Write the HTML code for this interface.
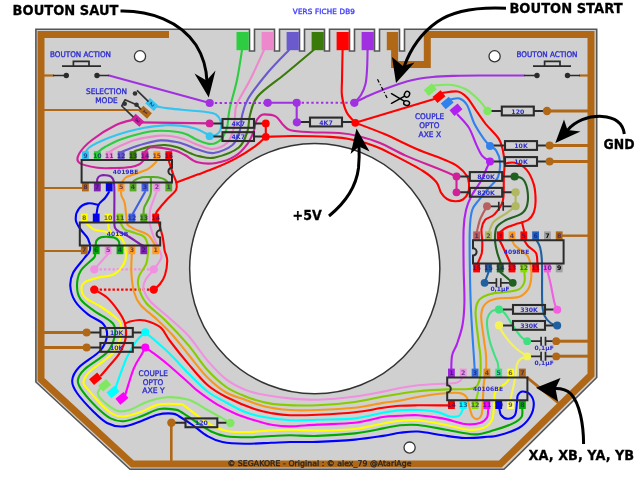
<!DOCTYPE html>
<html><head><meta charset="utf-8"><title>Trak-Ball wiring</title>
<style>html,body{margin:0;padding:0;background:#fff;overflow:hidden}svg{display:block}
text{font-family:"DejaVu Sans","Liberation Sans",sans-serif;filter:opacity(1)}</style></head>
<body><svg width="640" height="480" viewBox="0 0 640 480">
<rect width="640" height="480" fill="#fff"/>
<path d="M35.9,29.2 H249.5 V51 H254.5 V29.2 H274.5 V51 H279.5 V29.2 H299.5 V51 H304.5 V29.2 H324.5 V51 H329.5 V29.2 H349.5 V51 H354.5 V29.2 H374.5 V51 H379.5 V29.2 H399.5 V51 H404.5 V29.2 H596.7 V377.5 L504,469.3 H130 L35.9,382 Z" fill="#d0d0d0" stroke="#555" stroke-width="1.6" stroke-linejoin="miter"/>
<path d="M169,34.6 H41 V379.5 L132.5,464 H500.4 L591,375.1 V34.6 H427.3 V64.6 H394.6 V45" fill="none" stroke="#b06816" stroke-width="7" stroke-linejoin="miter"/>
<circle cx="314.75" cy="268.7" r="125.1" fill="#fff" stroke="#333" stroke-width="1.5"/>
<circle cx="140" cy="56.3" r="5.6" fill="#fff" stroke="#333" stroke-width="1.3"/>
<circle cx="494.6" cy="56.3" r="5.6" fill="#fff" stroke="#333" stroke-width="1.3"/>
<circle cx="409.6" cy="447.6" r="5.6" fill="#fff" stroke="#333" stroke-width="1.3"/>
<path d="M44,75.5 H54" fill="none" stroke="#b06816" stroke-width="2.2"/>
<path d="M44,110 H140" fill="none" stroke="#b06816" stroke-width="2.2"/>
<path d="M44,188 H83" fill="none" stroke="#b06816" stroke-width="2.2"/>
<path d="M44,251 H82" fill="none" stroke="#b06816" stroke-width="2.2"/>
<path d="M44,332.4 H86" fill="none" stroke="#b06816" stroke-width="3"/>
<path d="M44,347.4 H86" fill="none" stroke="#b06816" stroke-width="3"/>
<path d="M171.3,423 V461" fill="none" stroke="#b06816" stroke-width="2.6"/>
<path d="M547,111 H588" fill="none" stroke="#b06816" stroke-width="3"/>
<path d="M549.5,145.6 H588" fill="none" stroke="#b06816" stroke-width="3"/>
<path d="M549.5,161.5 H588" fill="none" stroke="#b06816" stroke-width="3"/>
<path d="M561,235.7 H588" fill="none" stroke="#b06816" stroke-width="2.4"/>
<path d="M556,341.2 H588" fill="none" stroke="#b06816" stroke-width="3"/>
<path d="M556,356.2 H588" fill="none" stroke="#b06816" stroke-width="3"/>
<path d="M579,75.5 H588" fill="none" stroke="#b06816" stroke-width="2.2"/>
<path d="M526.6,377.2 L558.5,403" fill="none" stroke="#b06816" stroke-width="2.8"/>
<path d="M242.0,50.0 C241.2,55.0 238.9,70.8 237.0,80.0 C235.1,89.2 231.9,99.0 230.5,105.0 C229.1,111.0 229.1,112.2 228.5,116.0 C227.9,119.8 228.2,123.6 227.0,127.5 C225.8,131.4 223.7,136.8 221.0,139.5 C218.3,142.2 214.9,143.9 211.0,144.0 C207.1,144.1 201.8,141.7 197.5,140.0 C193.2,138.3 189.8,135.2 185.0,133.8 C180.2,132.2 174.6,131.4 168.8,131.0 C162.9,130.6 157.8,130.2 150.0,131.5 C142.2,132.8 129.5,136.4 122.0,139.0 C114.5,141.6 109.0,144.8 105.0,147.0 C101.0,149.2 99.2,151.2 98.0,152.0" fill="none" stroke="#2ecc40" stroke-width="2.1" stroke-linecap="round" stroke-linejoin="round"/>
<path d="M264.0,50.0 C261.7,55.0 254.5,71.0 250.0,80.0 C245.5,89.0 239.5,98.0 237.0,104.0 C234.5,110.0 235.5,112.0 235.0,116.0 C234.5,120.0 235.0,123.6 233.8,128.0 C232.5,132.4 231.0,139.0 227.5,142.5 C224.0,146.0 217.4,148.6 212.5,149.0 C207.6,149.4 202.6,146.6 198.0,145.0 C193.4,143.4 189.7,140.9 185.0,139.4 C180.3,137.9 174.6,136.6 170.0,136.0 C165.4,135.4 163.3,135.2 157.5,135.9 C151.7,136.6 141.9,138.0 135.0,140.0 C128.1,142.0 120.2,146.0 116.0,148.0 C111.8,150.0 110.6,151.3 109.5,152.0" fill="none" stroke="#ee88cc" stroke-width="2.1" stroke-linecap="round" stroke-linejoin="round"/>
<path d="M289.0,50.0 C285.3,53.9 273.8,65.3 267.0,73.5 C260.2,81.7 252.2,91.9 248.0,99.0 C243.8,106.1 243.3,110.8 242.0,116.0 C240.7,121.2 241.6,125.2 240.0,130.0 C238.4,134.8 236.9,141.2 232.5,145.0 C228.1,148.8 219.5,152.2 213.8,153.0 C208.0,153.8 202.8,151.0 198.0,149.6 C193.2,148.2 188.8,145.7 185.0,144.4 C181.2,143.1 179.0,142.5 175.0,141.8 C171.0,141.1 166.1,140.1 161.0,140.4 C155.9,140.7 150.0,142.2 144.4,143.7 C138.8,145.2 131.3,148.0 127.5,149.4 C123.7,150.8 122.5,151.6 121.5,152.0" fill="none" stroke="#6a5acd" stroke-width="2.1" stroke-linecap="round" stroke-linejoin="round"/>
<path d="M313.6,50.0 C308.8,54.0 294.3,66.3 285.0,74.0 C275.7,81.7 263.8,89.2 258.0,96.0 C252.2,102.8 251.8,109.1 250.0,115.0 C248.2,120.9 249.4,125.8 247.5,131.2 C245.6,136.7 244.2,143.1 238.8,147.5 C233.3,151.9 221.5,156.0 215.0,157.5 C208.5,159.0 204.0,157.1 200.0,156.4 C196.0,155.7 194.7,155.0 191.0,153.5 C187.3,152.0 182.3,149.0 178.0,147.6 C173.7,146.2 169.7,145.2 165.0,145.0 C160.3,144.8 154.7,145.7 150.0,146.6 C145.3,147.5 139.8,149.4 137.0,150.3 C134.2,151.2 134.1,151.7 133.5,152.0" fill="none" stroke="#3a7a0a" stroke-width="2.1" stroke-linecap="round" stroke-linejoin="round"/>
<path d="M144.8,152.0 C145.7,151.3 147.5,148.3 150.0,147.6 C152.5,146.9 155.8,147.1 160.0,147.6 C164.2,148.1 170.8,149.4 175.0,150.6 C179.2,151.8 181.2,153.1 185.0,155.0 C188.8,156.9 192.3,161.0 197.5,162.3 C202.7,163.6 210.0,164.0 216.2,163.0 C222.5,162.0 229.8,159.5 235.0,156.2 C240.2,153.0 244.4,147.9 247.5,143.8 C250.6,139.6 252.4,134.8 253.8,131.2 C255.1,127.7 254.6,125.0 255.6,122.5 C256.6,120.0 258.1,117.8 259.6,116.4 C261.1,115.1 261.7,114.4 264.4,114.4 C267.1,114.4 272.5,114.6 275.6,116.3 C278.7,118.0 280.5,122.4 283.0,124.7 C285.5,127.0 285.9,129.1 290.6,130.3 C295.3,131.6 302.9,131.8 311.0,132.2 C319.1,132.6 331.6,132.4 339.4,133.0 C347.2,133.6 351.2,134.3 358.0,136.0 C364.8,137.7 372.1,139.7 380.0,143.0 C387.9,146.3 395.9,151.3 405.6,155.6 C415.3,159.9 429.9,165.3 438.4,168.8 C446.9,172.2 453.5,175.2 456.5,176.5" fill="none" stroke="#d0209a" stroke-width="2.1" stroke-linecap="round" stroke-linejoin="round"/>
<path d="M456.5,176.5 V192.3" fill="none" stroke="#d0209a" stroke-width="2.1" stroke-linecap="round" stroke-linejoin="round"/>
<path d="M140,122.4 L209.6,123.4" fill="none" stroke="#d0209a" stroke-width="2.1" stroke-linecap="round" stroke-linejoin="round"/>
<path d="M134.0,119.6 C131.0,120.5 123.0,121.6 116.0,125.0 C109.0,128.4 98.2,135.2 92.0,140.0 C85.8,144.8 81.1,150.2 79.0,154.0 C76.9,157.8 76.4,160.7 79.5,163.0 C82.6,165.3 91.6,166.9 97.5,167.8 C103.4,168.6 109.4,168.1 115.0,168.0 C120.6,167.9 127.0,167.6 131.0,167.0 C135.0,166.4 136.9,165.6 139.0,164.5 C141.1,163.4 142.8,161.2 143.5,160.5" fill="none" stroke="#d0209a" stroke-width="2.1" stroke-linecap="round" stroke-linejoin="round"/>
<path d="M154.0,106.0 C156.5,106.4 162.8,107.7 168.8,108.4 C174.8,109.2 183.8,109.9 190.0,110.5 C196.2,111.1 201.7,111.3 206.0,112.0 C210.3,112.7 213.6,113.0 216.0,114.5 C218.4,116.0 219.9,118.4 220.6,121.0 C221.3,123.6 221.2,127.7 220.4,130.0 C219.6,132.3 217.8,134.0 216.0,135.0 C214.2,136.0 210.7,136.0 209.6,136.2" fill="none" stroke="#33c4f0" stroke-width="2.1" stroke-linecap="round" stroke-linejoin="round"/>
<path d="M85.5,152.0 C86.6,150.9 86.9,148.4 92.0,145.6 C97.1,142.8 107.3,138.3 116.0,135.3 C124.7,132.3 136.2,129.5 144.4,127.8 C152.6,126.1 159.1,125.7 165.0,125.3 C170.9,124.9 175.0,125.1 180.0,125.6 C185.0,126.1 190.8,127.3 195.0,128.5 C199.2,129.7 202.6,131.7 205.0,133.0 C207.4,134.3 208.8,135.7 209.6,136.2" fill="none" stroke="#33c4f0" stroke-width="2.1" stroke-linecap="round" stroke-linejoin="round"/>
<path d="M109,75.5 L209.7,103" fill="none" stroke="#a030e0" stroke-width="2.1" stroke-linecap="round" stroke-linejoin="round"/>
<path d="M214.8,103 H264" fill="none" stroke="#a030e0" stroke-width="2.1" stroke-linecap="butt" stroke-linejoin="round" stroke-dasharray="2.4 2.45"/>
<path d="M267.7,102.8 H296.7 V122.3" fill="none" stroke="#a030e0" stroke-width="2.1" stroke-linecap="round" stroke-linejoin="round"/>
<path d="M301.6,102.8 H351" fill="none" stroke="#a030e0" stroke-width="2.1" stroke-linecap="butt" stroke-linejoin="round" stroke-dasharray="2.4 2.45"/>
<path d="M367.6,50.0 C367.5,53.3 367.4,64.3 367.0,70.0 C366.6,75.7 366.5,79.8 365.5,84.0 C364.5,88.2 362.9,91.9 361.0,95.0 C359.1,98.1 355.5,101.5 354.4,102.8" fill="none" stroke="#a030e0" stroke-width="2.1" stroke-linecap="round" stroke-linejoin="round"/>
<path d="M354.4,102.8 C356.7,101.7 363.3,98.1 368.0,96.0 C372.7,93.9 375.9,92.5 382.5,90.0 C389.1,87.5 399.2,83.4 407.5,81.2 C415.8,79.0 423.8,77.9 432.5,77.0 C441.2,76.1 452.1,76.0 460.0,75.7 C467.9,75.5 469.3,75.5 480.0,75.5 C490.7,75.5 516.7,75.5 524.0,75.5" fill="none" stroke="#a030e0" stroke-width="2.1" stroke-linecap="round" stroke-linejoin="round"/>
<path d="M342.6,50.0 C342.5,55.0 342.1,72.3 342.0,80.0 C341.9,87.7 341.2,90.7 342.0,96.0 C342.8,101.3 344.3,107.5 346.5,112.0 C348.7,116.5 353.8,121.0 355.3,122.8" fill="none" stroke="#ff0000" stroke-width="2.1" stroke-linecap="round" stroke-linejoin="round"/>
<path d="M355.3,122.8 L436,98.5" fill="none" stroke="#ff0000" stroke-width="2.1" stroke-linecap="round" stroke-linejoin="round"/>
<path d="M265.8,123.4 V136.8" fill="none" stroke="#ff0000" stroke-width="2.1" stroke-linecap="round" stroke-linejoin="round"/>
<path d="M265.8,136.8 C270.2,136.7 281.8,136.0 292.5,136.0 C303.2,136.0 320.0,136.3 330.0,136.9 C340.0,137.5 345.0,138.1 352.5,139.7 C360.0,141.2 368.0,143.5 375.0,146.2 C382.0,148.8 386.7,151.5 394.7,155.6 C402.7,159.7 416.1,166.6 423.0,171.0 C429.9,175.4 433.3,178.4 436.3,182.0 C439.3,185.6 439.2,189.8 441.0,192.6 C442.8,195.4 444.7,197.6 447.0,199.0 C449.3,200.4 452.3,201.1 455.0,201.2 C457.7,201.3 460.8,200.9 463.0,199.5 C465.2,198.1 467.2,195.1 468.2,192.5 C469.2,189.9 469.2,186.8 469.0,184.0 C468.8,181.2 468.8,178.9 467.0,176.0 C465.2,173.1 461.7,169.3 458.0,166.6 C454.3,163.9 451.9,162.9 445.0,160.0 C438.1,157.1 426.8,153.4 416.6,149.0 C406.4,144.6 394.0,138.1 383.8,133.8 C373.5,129.4 360.0,124.6 355.3,122.8" fill="none" stroke="#ff0000" stroke-width="2.1" stroke-linecap="round" stroke-linejoin="round"/>
<path d="M265.8,136.8 C264.0,138.4 260.1,142.6 255.0,146.3 C249.9,150.0 241.5,155.3 235.0,158.8 C228.5,162.3 222.5,164.9 216.2,167.5 C210.0,170.1 204.2,172.1 197.5,174.6 C190.8,177.1 179.8,181.2 176.3,182.5" fill="none" stroke="#ff0000" stroke-width="2.1" stroke-linecap="round" stroke-linejoin="round"/>
<path d="M168.6,160.0 C168.8,160.7 169.0,161.5 169.8,164.0 C170.6,166.5 172.3,171.9 173.4,175.0 C174.5,178.1 175.9,180.0 176.3,182.5 C176.7,185.0 177.6,187.2 176.0,190.0 C174.4,192.8 170.0,196.2 167.0,199.5 C164.0,202.8 159.9,207.6 158.0,210.0 C156.1,212.4 156.2,213.3 155.8,214.0" fill="none" stroke="#ff0000" stroke-width="2.1" stroke-linecap="round" stroke-linejoin="round"/>
<path d="M158.5,222.0 C159.2,224.5 161.7,232.3 162.7,237.0 C163.7,241.7 163.8,246.2 164.5,250.0 C165.2,253.8 167.1,255.8 167.2,260.0 C167.3,264.2 166.2,271.0 165.0,275.0 C163.8,279.0 161.9,281.6 160.0,284.0 C158.1,286.4 154.8,288.7 153.8,289.6" fill="none" stroke="#ff0000" stroke-width="2.1" stroke-linecap="round" stroke-linejoin="round"/>
<path d="M99.6,289.6 H150" fill="none" stroke="#ff0000" stroke-width="2.2" stroke-linecap="butt" stroke-linejoin="round" stroke-dasharray="2.4 1.9"/>
<path d="M94.3,289.6 C96.4,290.9 103.0,294.0 107.0,297.5 C111.0,301.0 115.0,306.4 118.0,310.6 C121.0,314.8 123.4,318.3 124.7,322.8 C126.0,327.3 126.6,332.6 125.8,337.5 C125.0,342.4 122.6,347.9 120.0,352.5 C117.4,357.1 113.2,361.2 110.0,365.0 C106.8,368.8 102.5,373.8 101.0,375.5" fill="none" stroke="#ff0000" stroke-width="2.1" stroke-linecap="round" stroke-linejoin="round"/>
<path d="M125.2,323.5 C126.0,323.2 127.5,322.1 130.0,321.5 C132.5,320.9 136.7,319.9 140.0,320.0 C143.3,320.1 146.5,320.7 150.0,322.0 C153.5,323.3 157.9,324.8 161.2,328.0 C164.6,331.2 165.4,334.9 170.0,341.0 C174.6,347.1 182.5,357.1 188.8,364.4 C195.0,371.7 201.2,379.6 207.5,385.0 C213.8,390.4 218.4,393.0 226.2,397.0 C234.1,401.0 246.6,406.3 254.4,409.0 C262.2,411.7 267.1,412.4 273.0,413.4 C278.9,414.4 282.6,415.0 290.0,415.2 C297.4,415.4 306.7,415.2 317.5,414.7 C328.3,414.2 344.1,413.4 355.0,412.2 C365.9,411.1 375.5,408.8 383.0,407.8 C390.5,406.7 394.2,406.2 400.0,405.8 C405.8,405.4 410.0,405.4 418.0,405.3 C426.0,405.2 443.0,405.4 448.0,405.4" fill="none" stroke="#ff0000" stroke-width="2.1" stroke-linecap="round" stroke-linejoin="round"/>
<path d="M156.6,160.0 C156.4,160.4 157.0,161.0 155.6,162.5 C154.2,164.0 151.4,167.1 148.0,169.0 C144.6,170.9 138.7,172.6 135.0,174.0 C131.3,175.4 128.0,176.0 125.8,177.5 C123.6,179.0 122.3,182.1 121.6,183.0" fill="none" stroke="#f6981e" stroke-width="2.1" stroke-linecap="round" stroke-linejoin="round"/>
<path d="M121.0,192.0 C121.1,192.7 121.0,194.2 121.6,196.0 C122.2,197.8 123.9,199.3 124.7,203.0 C125.5,206.7 126.0,214.4 126.5,218.0 C127.0,221.6 126.1,222.8 127.5,224.7 C128.9,226.6 131.6,227.7 135.0,229.4 C138.4,231.1 144.7,232.5 148.0,235.0 C151.3,237.5 153.4,242.6 154.7,244.4 C156.0,246.2 155.8,245.7 156.0,246.0" fill="none" stroke="#f6981e" stroke-width="2.1" stroke-linecap="round" stroke-linejoin="round"/>
<path d="M97.3,184.0 C97.3,183.2 96.8,180.4 97.3,179.0 C97.8,177.6 99.1,176.2 100.5,175.6 C101.9,175.0 103.8,175.0 105.5,175.2 C107.2,175.4 109.6,175.6 111.0,176.6 C112.4,177.6 113.2,178.2 113.8,181.3 C114.4,184.4 114.3,188.2 114.4,195.0 C114.5,201.8 114.1,216.3 114.4,222.0 C114.7,227.7 113.8,226.9 116.2,229.4 C118.8,231.9 125.3,234.5 129.4,237.0 C133.5,239.5 138.2,242.9 140.6,244.4 C143.0,245.9 143.4,245.7 144.0,246.0" fill="none" stroke="#8020b0" stroke-width="2.1" stroke-linecap="round" stroke-linejoin="round"/>
<path d="M109.0,192.0 C108.3,193.0 106.8,195.8 105.0,198.0 C103.2,200.2 99.8,202.3 98.4,205.0 C97.0,207.7 96.9,212.5 96.6,214.0" fill="none" stroke="#0000ff" stroke-width="2.1" stroke-linecap="round" stroke-linejoin="round"/>
<path d="M98.4,205.0 C96.7,204.7 91.3,202.8 88.0,203.4 C84.7,204.0 80.8,206.0 78.8,208.8 C76.7,211.5 75.5,216.6 75.8,220.0 C76.1,223.4 78.6,226.3 80.6,229.4 C82.6,232.5 86.4,235.3 88.0,238.8 C89.6,242.2 90.6,246.8 90.0,250.0 C89.4,253.2 87.2,254.2 84.4,258.0 C81.6,261.8 75.3,268.3 73.0,273.0 C70.7,277.7 70.0,281.3 70.3,286.0 C70.6,290.7 72.0,296.3 75.0,301.0 C78.0,305.7 83.3,310.6 88.0,314.4 C92.7,318.2 99.8,320.2 103.0,323.8 C106.2,327.3 107.5,331.1 107.0,335.6 C106.5,340.1 105.0,345.3 100.3,350.6 C95.6,355.9 83.4,362.5 78.8,367.5 C74.1,372.5 72.5,376.4 72.2,380.6 C71.9,384.9 73.4,387.8 77.0,393.0 C80.6,398.2 88.8,407.0 93.8,412.0 C98.8,417.0 102.3,420.6 107.0,423.0 C111.7,425.4 116.7,426.7 122.0,426.5 C127.3,426.3 132.8,424.0 138.8,422.0 C144.7,420.0 151.9,416.1 157.5,414.7 C163.1,413.3 168.8,413.3 172.5,413.6 C176.2,413.9 176.1,414.6 179.4,416.5 C182.7,418.4 187.8,421.7 192.5,425.0 C197.2,428.3 202.5,433.4 207.5,436.2 C212.5,439.1 216.2,440.8 222.5,442.0 C228.8,443.2 236.9,443.6 245.0,443.8 C253.1,443.9 263.8,443.1 271.2,442.8 C278.8,442.5 282.3,442.1 290.0,442.0 C297.7,441.9 306.7,442.3 317.5,441.9 C328.3,441.5 344.1,440.6 355.0,439.6 C365.9,438.6 375.5,437.0 383.0,435.9 C390.5,434.8 394.2,433.5 400.0,432.8 C405.8,432.1 410.9,431.1 418.0,431.5 C425.1,431.9 434.7,434.2 442.5,435.3 C450.3,436.4 457.5,437.8 465.0,438.0 C472.5,438.2 482.0,437.2 487.5,436.8 C493.0,436.4 492.8,437.1 498.0,435.6 C503.2,434.1 513.4,431.1 518.8,428.0 C524.1,424.9 527.5,421.0 530.0,417.0 C532.5,413.0 533.8,407.5 533.8,403.8 C533.8,400.0 531.9,396.4 530.0,394.4 C528.1,392.4 524.5,391.4 522.5,391.5 C520.5,391.6 518.7,393.6 517.8,395.3 C516.9,397.1 517.5,398.7 517.0,402.0 C516.5,405.3 516.6,412.2 515.0,415.0 C513.4,417.8 509.8,418.8 507.5,418.8 C505.2,418.8 502.3,416.6 501.0,415.0 C499.7,413.4 499.8,410.3 499.5,409.4" fill="none" stroke="#0000ff" stroke-width="2.1" stroke-linecap="round" stroke-linejoin="round"/>
<path d="M132.5,184.0 C132.8,183.4 132.8,181.5 134.4,180.4 C136.0,179.3 139.4,177.9 142.0,177.3 C144.6,176.7 147.3,177.0 150.0,177.0 C152.7,177.0 155.4,176.8 158.0,177.3 C160.6,177.8 163.8,178.9 165.5,180.0 C167.2,181.1 167.6,183.3 168.0,184.0" fill="none" stroke="#55aa22" stroke-width="2.1" stroke-linecap="round" stroke-linejoin="round"/>
<path d="M150.8,177.0 C150.8,179.8 151.7,188.8 150.6,193.8 C149.5,198.8 145.6,203.6 144.4,207.0 C143.2,210.4 143.7,213.2 143.6,214.4" fill="none" stroke="#55aa22" stroke-width="2.1" stroke-linecap="round" stroke-linejoin="round"/>
<path d="M145,192 L132.4,214.4" fill="none" stroke="#4060e0" stroke-width="2.1" stroke-linecap="round" stroke-linejoin="round"/>
<path d="M156.6,192.0 C156.1,193.2 154.8,196.3 153.8,199.4 C152.7,202.5 150.6,206.5 150.0,210.6 C149.4,214.7 149.4,219.3 150.0,223.8 C150.6,228.2 152.2,232.6 153.8,237.0 C155.3,241.4 158.2,246.5 159.4,250.0 C160.7,253.5 162.2,254.8 161.2,258.0 C160.3,261.2 156.2,265.9 153.8,269.4 C151.2,272.9 148.0,275.6 146.2,278.8 C144.5,281.9 142.8,284.3 143.4,288.0 C144.0,291.7 146.1,296.3 150.0,301.0 C153.9,305.7 160.5,310.1 167.0,316.0 C173.5,321.9 182.0,328.8 188.8,336.2 C195.5,343.7 201.2,353.4 207.5,360.6 C213.8,367.8 220.0,374.5 226.2,379.4 C232.5,384.2 238.8,387.1 245.0,389.7 C251.2,392.3 256.2,393.3 263.8,394.8 C271.2,396.2 281.0,397.6 290.0,398.4 C299.0,399.2 306.7,400.0 317.5,399.7 C328.3,399.4 344.1,397.9 355.0,396.5 C365.9,395.1 375.5,393.0 383.0,391.6 C390.5,390.2 394.2,389.1 400.0,388.0 C405.8,386.9 410.9,386.0 418.0,385.2 C425.1,384.5 436.2,384.1 442.5,383.8 C448.8,383.4 452.6,383.5 455.6,383.0 C458.6,382.5 459.4,381.5 460.5,380.5 C461.6,379.5 461.9,377.8 462.2,377.2" fill="none" stroke="#f090e0" stroke-width="2.1" stroke-linecap="round" stroke-linejoin="round"/>
<path d="M99.6,269.4 H150" fill="none" stroke="#f090e0" stroke-width="2.2" stroke-linecap="butt" stroke-linejoin="round" stroke-dasharray="2.4 1.9"/>
<path d="M108,254 L94.3,269.4" fill="none" stroke="#f090e0" stroke-width="2.1" stroke-linecap="round" stroke-linejoin="round"/>
<path d="M85.0,222.4 C85.3,222.6 85.5,222.6 87.0,223.8 C88.5,224.9 90.8,228.1 93.8,229.4 C96.8,230.7 102.0,230.9 105.0,231.5 C108.0,232.1 110.8,232.8 112.0,233.0" fill="none" stroke="#ffff00" stroke-width="2.1" stroke-linecap="round" stroke-linejoin="round"/>
<path d="M108.4,222.4 C108.5,223.6 108.0,227.5 109.0,229.4 C110.0,231.3 112.2,232.4 114.4,234.0 C116.6,235.6 120.0,236.1 121.9,238.8 C123.8,241.4 125.1,246.1 125.6,250.0 C126.1,253.9 126.6,258.0 124.7,262.0 C122.8,266.0 118.9,271.4 114.4,274.0 C109.9,276.6 102.5,276.4 97.5,277.8 C92.5,279.2 87.1,280.5 84.4,282.5 C81.7,284.5 81.2,287.4 81.5,290.0 C81.8,292.6 83.0,295.6 86.2,298.4 C89.5,301.2 96.2,303.7 101.2,307.0 C106.2,310.3 113.0,315.1 116.2,318.0 C119.5,320.9 120.4,320.8 121.0,324.4 C121.6,328.0 121.6,334.4 120.0,339.4 C118.4,344.4 116.6,349.1 111.6,354.4 C106.6,359.7 94.7,366.6 90.0,371.2 C85.3,375.9 83.7,379.5 83.4,382.5 C83.1,385.5 85.0,385.8 88.0,389.4 C91.0,393.0 97.2,400.3 101.2,404.4 C105.3,408.5 108.8,411.7 112.5,413.8 C116.2,415.8 119.1,416.8 123.8,416.5 C128.4,416.2 134.7,414.0 140.6,412.0 C146.5,410.0 152.8,405.7 159.4,404.4 C166.0,403.1 175.7,403.9 180.0,404.2 C184.3,404.5 181.7,404.0 185.0,406.2 C188.3,408.5 195.0,414.0 200.0,417.5 C205.0,421.0 210.0,424.7 215.0,427.0 C220.0,429.3 224.4,430.7 230.0,431.5 C235.6,432.3 242.5,432.1 248.8,432.0 C255.0,431.9 260.6,431.0 267.5,430.6 C274.4,430.2 281.7,429.7 290.0,429.7 C298.3,429.7 306.7,430.7 317.5,430.6 C328.3,430.5 344.1,430.2 355.0,429.0 C365.9,427.8 375.5,424.9 383.0,423.5 C390.5,422.1 394.2,421.3 400.0,420.8 C405.8,420.3 410.3,419.6 418.0,420.3 C425.7,421.0 437.8,423.4 446.2,425.0 C454.7,426.6 462.5,429.2 468.8,429.7 C475.0,430.2 479.8,429.5 483.8,427.8 C487.7,426.1 490.5,423.6 492.2,419.4 C493.9,415.2 493.7,406.9 494.2,402.5 C494.7,398.1 493.9,395.6 495.0,393.0 C496.1,390.4 498.6,388.9 500.6,387.0 C502.6,385.1 505.7,383.6 507.2,381.9 C508.7,380.2 509.1,377.8 509.5,377.0" fill="none" stroke="#ffff00" stroke-width="2.1" stroke-linecap="round" stroke-linejoin="round"/>
<path d="M95.6,246.0 C95.8,245.1 95.6,242.0 96.5,240.6 C97.4,239.2 99.2,237.9 101.0,237.3 C102.8,236.7 104.8,236.8 107.0,236.8 C109.2,236.9 112.1,236.9 114.0,237.6 C115.9,238.3 117.7,239.6 118.6,241.0 C119.5,242.4 119.4,245.2 119.6,246.0" fill="none" stroke="#00aa00" stroke-width="2.1" stroke-linecap="round" stroke-linejoin="round"/>
<path d="M95.0,254.0 C94.8,254.7 96.2,255.2 93.8,258.0 C91.3,260.8 83.4,266.3 80.6,271.0 C77.8,275.7 77.0,281.3 77.0,286.0 C77.0,290.7 77.8,295.3 80.6,299.4 C83.4,303.5 89.1,307.2 93.8,310.6 C98.4,314.0 105.3,317.4 108.8,320.0 C112.2,322.6 113.5,323.1 114.4,326.0 C115.3,328.9 115.6,333.1 114.4,337.5 C113.2,341.9 112.0,347.2 107.0,352.5 C102.0,357.8 89.3,364.7 84.4,369.4 C79.5,374.1 78.1,377.0 77.8,380.6 C77.5,384.2 79.2,386.7 82.5,391.2 C85.8,395.8 92.8,403.5 97.5,408.0 C102.2,412.5 106.2,416.2 110.6,418.4 C115.0,420.6 118.8,421.6 123.8,421.2 C128.8,420.9 134.7,418.5 140.6,416.5 C146.5,414.5 153.7,410.1 159.4,409.0 C165.1,407.9 171.4,409.1 175.0,409.6 C178.6,410.1 177.7,409.9 181.2,412.0 C184.8,414.1 191.2,418.8 196.2,422.0 C201.2,425.2 206.2,429.1 211.2,431.5 C216.2,433.9 220.0,435.3 226.2,436.2 C232.5,437.2 241.2,437.2 248.8,437.2 C256.2,437.2 264.4,436.3 271.2,436.0 C278.1,435.7 282.3,435.3 290.0,435.3 C297.7,435.3 306.7,436.2 317.5,435.9 C328.3,435.6 344.1,434.6 355.0,433.4 C365.9,432.1 375.5,429.8 383.0,428.4 C390.5,427.0 394.2,425.9 400.0,425.3 C405.8,424.7 410.3,424.3 418.0,425.0 C425.7,425.7 436.9,428.1 446.2,429.7 C455.6,431.3 466.4,434.3 474.4,434.4 C482.4,434.4 488.0,431.8 494.4,430.0 C500.8,428.2 508.5,425.6 513.0,423.4 C517.5,421.2 520.0,419.3 521.5,417.0 C523.0,414.7 522.2,410.7 522.3,409.4" fill="none" stroke="#00aa00" stroke-width="2.1" stroke-linecap="round" stroke-linejoin="round"/>
<path d="M120.4,222.4 C120.5,222.6 120.3,222.6 121.0,223.8 C121.7,224.9 122.4,227.9 124.7,229.4 C127.0,230.9 131.7,231.7 135.0,233.0 C138.3,234.3 142.2,234.8 144.4,237.0 C146.6,239.2 147.4,243.4 148.0,246.0 C148.6,248.6 148.3,249.5 148.0,252.5 C147.7,255.5 147.8,259.7 146.2,263.8 C144.7,267.8 140.0,273.0 138.8,277.0 C137.5,281.0 137.5,283.7 138.8,288.0 C140.0,292.3 141.9,297.7 146.2,303.0 C150.6,308.3 157.9,312.9 165.0,320.0 C172.1,327.1 181.7,337.3 188.8,345.6 C195.8,353.9 201.2,363.1 207.5,370.0 C213.8,376.9 220.0,382.6 226.2,387.0 C232.5,391.4 238.9,393.8 245.0,396.2 C251.1,398.8 257.2,400.6 263.0,402.0 C268.8,403.4 270.9,404.1 280.0,404.6 C289.1,405.2 305.0,405.7 317.5,405.3 C330.0,404.9 344.1,403.5 355.0,402.0 C365.9,400.5 375.5,397.9 383.0,396.5 C390.5,395.1 394.2,394.6 400.0,393.7 C405.8,392.8 410.3,392.0 418.0,391.2 C425.7,390.5 437.8,389.8 446.2,389.4 C454.7,389.0 463.8,389.4 468.8,389.0 C473.7,388.6 474.2,388.5 476.0,387.0 C477.8,385.5 478.8,382.8 479.6,380.0 C480.4,377.2 480.5,374.2 480.6,370.0 C480.7,365.8 480.7,360.0 480.3,355.0 C479.9,350.0 479.2,347.2 478.4,340.0 C477.6,332.8 475.4,318.7 475.6,312.0 C475.8,305.3 476.9,302.7 479.4,299.7 C481.9,296.7 486.2,295.3 490.6,294.0 C495.0,292.7 500.9,292.8 505.6,292.0 C510.3,291.2 515.6,291.1 518.8,289.4 C521.9,287.7 523.5,284.8 524.4,282.0 C525.3,279.2 524.4,274.1 524.4,272.5" fill="none" stroke="#88cc00" stroke-width="2.1" stroke-linecap="round" stroke-linejoin="round"/>
<path d="M475.6,402.0 C475.9,400.7 477.1,396.3 477.6,394.0 C478.1,391.7 478.4,389.0 478.6,388.0" fill="none" stroke="#88dd00" stroke-width="2.1" stroke-linecap="round" stroke-linejoin="round"/>
<path d="M131.8,254.0 C131.7,257.2 131.0,266.7 131.4,273.0 C131.8,279.3 132.5,286.7 134.0,292.0 C135.5,297.3 136.7,300.3 140.6,305.0 C144.5,309.7 152.2,315.0 157.5,320.0 C162.8,325.0 167.3,329.2 172.5,335.0 C177.7,340.8 182.9,347.9 188.8,355.0 C194.6,362.1 201.2,371.2 207.5,377.5 C213.8,383.8 220.0,388.8 226.2,392.5 C232.5,396.2 238.8,397.4 245.0,399.7 C251.2,402.0 256.2,404.5 263.8,406.2 C271.2,408.0 281.0,409.4 290.0,410.0 C299.0,410.6 306.7,410.4 317.5,410.0 C328.3,409.6 344.1,408.9 355.0,407.8 C365.9,406.6 375.5,404.1 383.0,402.9 C390.5,401.7 394.2,401.6 400.0,400.6 C405.8,399.6 410.9,398.2 418.0,397.0 C425.1,395.8 435.6,394.2 442.5,393.5 C449.4,392.8 455.4,392.4 459.4,393.0 C463.4,393.6 464.8,394.5 466.5,397.0 C468.2,399.5 468.7,404.8 469.7,408.0 C470.7,411.2 471.2,414.7 472.5,416.5 C473.8,418.3 476.1,419.3 477.6,419.0 C479.1,418.7 480.7,417.2 481.6,414.5 C482.5,411.8 482.4,407.6 482.8,402.5 C483.2,397.4 483.2,389.2 483.8,383.8 C484.3,378.3 485.6,374.8 486.0,370.0 C486.4,365.2 486.3,360.0 486.0,355.0 C485.7,350.0 484.8,346.6 484.0,340.0 C483.2,333.4 481.1,321.5 481.2,315.6 C481.4,309.7 482.5,307.2 485.0,304.4 C487.5,301.6 490.6,300.0 496.2,298.8 C501.9,297.5 513.5,298.6 518.8,297.0 C524.0,295.4 526.0,292.2 528.0,289.4 C530.0,286.6 530.5,283.6 531.0,280.0 C531.5,276.4 531.5,271.9 531.0,268.0 C530.5,264.1 529.8,259.6 528.0,256.5 C526.2,253.4 522.2,251.4 520.0,249.5 C517.8,247.6 515.8,246.6 514.5,245.0 C513.2,243.4 512.4,240.8 512.0,240.0" fill="none" stroke="#f6981e" stroke-width="2.1" stroke-linecap="round" stroke-linejoin="round"/>
<path d="M115.5,388.0 C117.3,383.0 123.1,365.8 126.6,358.0 C130.1,350.2 133.3,345.3 136.4,341.0 C139.5,336.7 143.8,333.8 145.3,332.3" fill="none" stroke="#00ffff" stroke-width="2.1" stroke-linecap="round" stroke-linejoin="round"/>
<path d="M145.3,332.3 C146.7,333.5 149.6,335.8 153.8,339.4 C157.9,343.0 164.2,348.3 170.0,354.0 C175.8,359.7 182.5,367.5 188.8,373.8 C195.0,380.0 201.2,386.7 207.5,391.5 C213.8,396.3 220.0,399.1 226.2,402.5 C232.5,405.9 238.8,409.6 245.0,412.0 C251.2,414.4 256.2,415.6 263.8,417.0 C271.2,418.4 281.0,419.8 290.0,420.3 C299.0,420.8 306.7,420.1 317.5,419.8 C328.3,419.4 344.1,419.6 355.0,418.4 C365.9,417.2 375.5,414.1 383.0,412.8 C390.5,411.5 394.2,410.9 400.0,410.4 C405.8,409.9 411.8,409.8 418.0,410.0 C424.2,410.2 431.7,410.8 437.0,411.9 C442.3,413.0 446.3,415.9 450.0,416.5 C453.7,417.1 457.3,416.9 459.4,415.6 C461.5,414.4 462.2,410.1 462.8,409.0" fill="none" stroke="#00ffff" stroke-width="2.1" stroke-linecap="round" stroke-linejoin="round"/>
<path d="M125.2,395.0 C126.6,390.6 130.9,375.5 133.6,368.8 C136.3,362.0 139.6,358.1 141.6,354.5 C143.6,350.9 144.7,348.6 145.3,347.4" fill="none" stroke="#ff00ff" stroke-width="2.1" stroke-linecap="round" stroke-linejoin="round"/>
<path d="M145.3,347.4 C147.3,348.9 153.4,353.1 157.5,356.2 C161.6,359.4 164.8,361.8 170.0,366.2 C175.2,370.7 184.1,378.8 188.8,383.0 C193.4,387.2 193.3,387.7 198.0,391.2 C202.7,394.8 210.7,400.6 217.0,404.4 C223.3,408.1 229.4,411.1 235.6,413.8 C241.8,416.4 248.2,418.4 254.4,420.3 C260.6,422.2 267.1,424.0 273.0,425.0 C278.9,426.0 282.6,426.5 290.0,426.4 C297.4,426.3 306.7,425.2 317.5,424.6 C328.3,424.0 344.1,424.0 355.0,422.8 C365.9,421.5 375.5,418.2 383.0,417.0 C390.5,415.8 394.2,416.1 400.0,415.8 C405.8,415.5 410.9,414.8 418.0,415.2 C425.1,415.7 434.7,416.9 442.5,418.4 C450.3,419.9 458.8,423.2 465.0,424.0 C471.2,424.8 476.3,424.1 480.0,423.0 C483.7,421.9 485.6,419.8 487.0,417.5 C488.4,415.2 488.0,410.4 488.2,409.0" fill="none" stroke="#ff00ff" stroke-width="2.1" stroke-linecap="round" stroke-linejoin="round"/>
<path d="M103.5,386.0 C102.8,386.6 100.3,387.9 99.4,389.4 C98.5,390.9 96.9,392.5 98.2,395.0 C99.5,397.5 103.7,401.7 107.0,404.4 C110.3,407.1 114.3,410.1 118.0,411.0 C121.7,411.9 124.4,411.6 129.4,410.0 C134.4,408.4 141.7,403.6 148.0,401.5 C154.3,399.4 160.2,397.6 167.0,397.2 C173.8,396.9 182.0,397.6 188.8,399.7 C195.5,401.8 201.9,406.9 207.5,410.0 C213.1,413.1 218.7,416.2 222.5,418.4 C226.3,420.6 229.1,422.2 230.4,423.0" fill="none" stroke="#80e860" stroke-width="2.1" stroke-linecap="round" stroke-linejoin="round"/>
<path d="M434.0,85.5 C435.8,85.4 441.7,84.8 445.0,84.8 C448.3,84.8 450.1,84.4 453.8,85.3 C457.4,86.2 462.6,87.3 467.0,90.0 C471.4,92.7 476.6,97.8 480.0,101.2 C483.4,104.8 486.2,109.4 487.5,111.0" fill="none" stroke="#80e860" stroke-width="2.1" stroke-linecap="round" stroke-linejoin="round"/>
<path d="M442.0,93.0 C444.6,92.8 453.3,90.8 457.5,91.5 C461.7,92.2 463.9,94.3 467.0,97.5 C470.1,100.7 473.1,106.2 476.2,110.6 C479.4,115.0 481.9,119.1 485.6,123.8 C489.4,128.4 495.9,134.4 498.8,138.8 C501.6,143.1 501.8,145.8 502.8,150.0 C503.8,154.2 504.3,159.2 504.5,163.8 C504.7,168.2 504.0,170.8 503.8,177.0 C503.5,183.2 504.4,194.8 502.8,201.0 C501.2,207.2 497.4,211.2 494.4,214.4 C491.4,217.6 487.1,217.6 485.0,220.0 C482.9,222.4 481.9,225.4 481.5,229.0 C481.1,232.6 482.3,237.5 482.3,241.5 C482.3,245.5 482.5,249.3 481.8,253.0 C481.0,256.7 478.3,261.8 477.6,263.6" fill="none" stroke="#ff0000" stroke-width="2.1" stroke-linecap="round" stroke-linejoin="round"/>
<path d="M504.5,163.5 C506.2,163.4 511.4,161.8 515.0,162.8 C518.6,163.8 523.1,165.8 526.2,169.4 C529.4,173.0 532.2,179.1 533.8,184.4 C535.3,189.7 535.6,196.3 535.6,201.0 C535.6,205.7 535.0,209.3 533.8,212.5 C532.5,215.7 530.7,218.2 528.0,220.0 C525.3,221.8 521.1,222.3 517.5,223.6 C513.9,224.8 509.5,226.1 506.6,227.5 C503.7,228.9 501.4,231.2 500.3,232.0" fill="none" stroke="#ff0000" stroke-width="2.1" stroke-linecap="round" stroke-linejoin="round"/>
<path d="M522.0,222.3 L524.3,232.0" fill="none" stroke="#ff0000" stroke-width="2.1" stroke-linecap="round" stroke-linejoin="round"/>
<path d="M499.5,240.0 C500.4,241.9 503.2,247.6 505.0,251.5 C506.8,255.4 509.6,261.6 510.5,263.6" fill="none" stroke="#ff0000" stroke-width="2.1" stroke-linecap="round" stroke-linejoin="round"/>
<path d="M524.0,240.0 C524.7,241.0 526.0,243.8 528.0,246.0 C530.0,248.2 534.4,250.1 536.0,253.0 C537.6,255.9 537.2,261.8 537.4,263.6" fill="none" stroke="#ff0000" stroke-width="2.1" stroke-linecap="round" stroke-linejoin="round"/>
<path d="M451.0,99.4 C452.4,99.2 456.7,97.5 459.4,98.4 C462.1,99.3 464.5,100.8 467.0,105.0 C469.5,109.2 471.6,118.1 474.4,123.8 C477.2,129.4 481.1,135.0 483.8,138.8 C486.4,142.5 489.0,144.8 490.0,146.0" fill="none" stroke="#3080f0" stroke-width="2.1" stroke-linecap="round" stroke-linejoin="round"/>
<path d="M490.0,146.0 C491.0,146.8 494.6,147.9 496.2,150.6 C497.9,153.3 499.7,157.6 500.0,162.0 C500.3,166.4 499.9,172.7 498.0,177.0 C496.1,181.3 491.9,184.3 488.8,188.0 C485.6,191.7 482.2,195.7 479.4,199.4 C476.6,203.1 473.8,205.1 472.2,210.0 C470.6,214.9 470.2,219.8 469.8,229.0 C469.4,238.2 469.6,251.5 469.8,265.0 C470.0,278.5 470.3,295.0 471.0,310.0 C471.7,325.0 473.1,345.2 473.8,355.0 C474.4,364.8 474.5,366.7 474.7,369.0" fill="none" stroke="#3080f0" stroke-width="2.1" stroke-linecap="round" stroke-linejoin="round"/>
<path d="M457.5,114.5 C459.4,116.7 465.6,122.5 468.8,127.5 C471.9,132.5 474.0,139.7 476.2,144.4 C478.5,149.1 479.7,152.8 482.0,155.6 C484.3,158.4 488.7,160.5 490.0,161.5" fill="none" stroke="#b020f0" stroke-width="2.1" stroke-linecap="round" stroke-linejoin="round"/>
<path d="M490.0,161.5 C489.5,162.5 488.5,164.3 487.0,167.5 C485.5,170.7 483.9,175.8 481.2,180.6 C478.6,185.3 473.9,191.1 471.4,196.0 C468.9,200.9 467.3,204.5 466.0,210.0 C464.7,215.5 464.0,219.8 463.6,229.0 C463.2,238.2 463.5,252.8 463.6,265.0 C463.7,277.2 464.6,292.5 464.4,302.5 C464.2,312.5 463.7,318.1 462.5,325.0 C461.3,331.9 458.7,338.8 457.0,343.8 C455.3,348.8 453.1,350.8 452.2,355.0 C451.2,359.2 451.4,366.7 451.3,369.0" fill="none" stroke="#b020f0" stroke-width="2.1" stroke-linecap="round" stroke-linejoin="round"/>
<path d="M487.0,206.2 C485.9,208.3 482.0,214.7 480.3,219.0 C478.6,223.3 477.4,229.8 476.8,232.0" fill="none" stroke="#b86060" stroke-width="2.1" stroke-linecap="round" stroke-linejoin="round"/>
<path d="M515.6,192.3 V206.2" fill="none" stroke="#b0b860" stroke-width="2.1" stroke-linecap="round" stroke-linejoin="round"/>
<path d="M515.6,206.2 C514.2,207.3 510.6,210.2 507.0,212.8 C503.4,215.4 497.0,218.3 494.0,221.5 C491.0,224.7 489.8,230.2 489.0,232.0" fill="none" stroke="#b0b860" stroke-width="2.1" stroke-linecap="round" stroke-linejoin="round"/>
<path d="M514.6,176.5 C515.9,176.9 520.4,176.7 522.5,178.8 C524.6,180.8 526.4,184.6 527.2,189.0 C528.0,193.4 528.2,200.9 527.2,205.0 C526.2,209.1 525.2,211.0 521.5,213.6 C517.8,216.2 509.2,218.2 505.0,220.5 C500.8,222.8 498.2,224.2 496.5,227.5 C494.8,230.8 494.9,235.8 495.0,240.0 C495.1,244.2 496.2,248.6 497.2,252.5 C498.2,256.4 500.4,261.8 501.0,263.6" fill="none" stroke="#206020" stroke-width="2.1" stroke-linecap="round" stroke-linejoin="round"/>
<path d="M488.4,272.5 L484.6,282.8" fill="none" stroke="#2060a0" stroke-width="2.1" stroke-linecap="round" stroke-linejoin="round"/>
<path d="M500.6,272.5 L512.75,282.8" fill="none" stroke="#206020" stroke-width="2.1" stroke-linecap="round" stroke-linejoin="round"/>
<path d="M536.4,240.0 C537.0,241.3 539.3,244.0 540.2,247.8 C541.1,251.6 541.7,253.9 542.0,263.0 C542.3,272.1 541.8,293.7 542.2,302.5 C542.6,311.3 543.1,312.2 544.5,315.6 C545.9,319.0 548.5,321.4 550.6,323.0 C552.7,324.6 556.1,325.0 557.2,325.4" fill="none" stroke="#2060a0" stroke-width="2.1" stroke-linecap="round" stroke-linejoin="round"/>
<path d="M547.8,272.5 C548.3,274.4 549.5,278.8 550.6,283.8 C551.7,288.8 553.3,298.2 554.4,302.5 C555.5,306.8 556.7,308.6 557.2,309.8" fill="none" stroke="#f060e0" stroke-width="2.1" stroke-linecap="round" stroke-linejoin="round"/>
<path d="M499.0,309.6 C497.8,309.9 493.5,309.6 491.5,311.5 C489.5,313.4 487.3,316.5 487.0,321.2 C486.7,326.0 488.2,334.4 489.5,340.0 C490.8,345.6 493.2,351.3 494.5,355.0 C495.8,358.7 496.8,359.7 497.5,362.0 C498.2,364.3 498.4,367.8 498.6,369.0" fill="none" stroke="#40e080" stroke-width="2.1" stroke-linecap="round" stroke-linejoin="round"/>
<path d="M499.0,309.6 C499.9,310.2 502.5,310.8 504.5,313.0 C506.5,315.2 508.6,319.1 511.2,323.0 C513.9,326.9 517.9,333.2 520.6,336.2 C523.3,339.3 526.1,340.4 527.2,341.2" fill="none" stroke="#40e080" stroke-width="2.1" stroke-linecap="round" stroke-linejoin="round"/>
<path d="M499.0,325.4 C499.8,326.9 501.1,330.7 503.8,334.4 C506.4,338.1 511.1,343.9 515.0,347.5 C518.9,351.1 525.2,354.8 527.2,356.2" fill="none" stroke="#f4f458" stroke-width="2.1" stroke-linecap="round" stroke-linejoin="round"/>
<path d="M527.0,356.6 C525.9,357.0 522.3,357.4 520.6,358.8 C518.9,360.1 517.9,361.0 517.0,364.4 C516.1,367.8 515.8,374.7 515.0,379.4 C514.2,384.1 512.8,388.9 512.0,392.5 C511.2,396.1 510.6,399.6 510.3,401.0" fill="none" stroke="#f4f458" stroke-width="2.1" stroke-linecap="round" stroke-linejoin="round"/>
<rect x="90.35" y="374.9" width="10.5" height="7.6" fill="#ff0000" transform="rotate(-40 95.6 378.7)"/>
<rect x="99.35" y="381.5" width="10.5" height="7.6" fill="#80e860" transform="rotate(-40 104.6 385.3)"/>
<rect x="107.75" y="388.2" width="10.5" height="7.6" fill="#00ffff" transform="rotate(-40 113 392)"/>
<rect x="116.65" y="394.59999999999997" width="10.5" height="7.6" fill="#ff00ff" transform="rotate(-40 121.9 398.4)"/>
<rect x="425.05" y="85.8" width="10.5" height="7.6" fill="#80e860" transform="rotate(-40 430.3 89.6)"/>
<rect x="433.75" y="92.8" width="10.5" height="7.6" fill="#ff0000" transform="rotate(-40 439 96.6)"/>
<rect x="441.95" y="99.2" width="10.5" height="7.6" fill="#3080f0" transform="rotate(-40 447.2 103)"/>
<rect x="450.75" y="105.9" width="10.5" height="7.6" fill="#b020f0" transform="rotate(-40 456 109.7)"/>
<rect x="236.5" y="32" width="12.2" height="18.2" fill="#2ecc40"/>
<rect x="261.6" y="32" width="12.2" height="18.2" fill="#ee88cc"/>
<rect x="286.6" y="32" width="12.2" height="18.2" fill="#6a5acd"/>
<rect x="311.6" y="32" width="12.2" height="18.2" fill="#3a7a0a"/>
<rect x="336.6" y="32" width="12.2" height="18.2" fill="#ff0000"/>
<rect x="361.6" y="32" width="12.2" height="18.2" fill="#a030e0"/>
<rect x="386.8" y="32" width="11.3" height="18.2" fill="#b06816"/>
<rect x="82.0" y="151.2" width="6.8" height="8.8" fill="#33c4f0"/>
<rect x="93.91" y="151.2" width="6.8" height="8.8" fill="#2ecc40"/>
<rect x="105.82" y="151.2" width="6.8" height="8.8" fill="#f090d8"/>
<rect x="117.73" y="151.2" width="6.8" height="8.8" fill="#6a5acd"/>
<rect x="129.64" y="151.2" width="6.8" height="8.8" fill="#3a7a0a"/>
<rect x="141.55" y="151.2" width="6.8" height="8.8" fill="#d0209a"/>
<rect x="153.46" y="151.2" width="6.8" height="8.8" fill="#ff9c20"/>
<rect x="165.37" y="151.2" width="6.8" height="8.8" fill="#ff0000"/>
<rect x="82.0" y="182.6" width="6.8" height="8.8" fill="#b06816"/>
<rect x="93.91" y="182.6" width="6.8" height="8.8" fill="#8020b0"/>
<rect x="105.82" y="182.6" width="6.8" height="8.8" fill="#0000ff"/>
<rect x="117.73" y="182.6" width="6.8" height="8.8" fill="#ff9c20"/>
<rect x="129.64" y="182.6" width="6.8" height="8.8" fill="#55aa22"/>
<rect x="141.55" y="182.6" width="6.8" height="8.8" fill="#4060e0"/>
<rect x="153.46" y="182.6" width="6.8" height="8.8" fill="#f090e0"/>
<rect x="165.37" y="182.6" width="6.8" height="8.8" fill="#55aa22"/>

<path d="M81.6,160 H172 V167.70000000000002 A3.6,3.6 0 0 0 172,174.9 V182.6 H81.6 Z" fill="none" stroke="#2b2b2b" stroke-width="2"/>
<text x="85.4" y="157.9" font-size="6.3" text-anchor="middle" fill="#20106a" fill-opacity="0.68" font-weight="bold">9</text>
<text x="97.31" y="157.9" font-size="6.3" text-anchor="middle" fill="#20106a" fill-opacity="0.68" font-weight="bold">10</text>
<text x="109.22" y="157.9" font-size="6.3" text-anchor="middle" fill="#20106a" fill-opacity="0.68" font-weight="bold">11</text>
<text x="121.13000000000001" y="157.9" font-size="6.3" text-anchor="middle" fill="#20106a" fill-opacity="0.68" font-weight="bold">12</text>
<text x="133.04" y="157.9" font-size="6.3" text-anchor="middle" fill="#20106a" fill-opacity="0.68" font-weight="bold">13</text>
<text x="144.95000000000002" y="157.9" font-size="6.3" text-anchor="middle" fill="#20106a" fill-opacity="0.68" font-weight="bold">14</text>
<text x="156.86" y="157.9" font-size="6.3" text-anchor="middle" fill="#20106a" fill-opacity="0.68" font-weight="bold">15</text>
<text x="168.77" y="157.9" font-size="6.3" text-anchor="middle" fill="#20106a" fill-opacity="0.68" font-weight="bold">16</text>
<text x="85.4" y="189.29999999999998" font-size="6.3" text-anchor="middle" fill="#20106a" fill-opacity="0.68" font-weight="bold">8</text>
<text x="97.31" y="189.29999999999998" font-size="6.3" text-anchor="middle" fill="#20106a" fill-opacity="0.68" font-weight="bold">7</text>
<text x="109.22" y="189.29999999999998" font-size="6.3" text-anchor="middle" fill="#20106a" fill-opacity="0.68" font-weight="bold">6</text>
<text x="121.13000000000001" y="189.29999999999998" font-size="6.3" text-anchor="middle" fill="#20106a" fill-opacity="0.68" font-weight="bold">5</text>
<text x="133.04" y="189.29999999999998" font-size="6.3" text-anchor="middle" fill="#20106a" fill-opacity="0.68" font-weight="bold">4</text>
<text x="144.95000000000002" y="189.29999999999998" font-size="6.3" text-anchor="middle" fill="#20106a" fill-opacity="0.68" font-weight="bold">3</text>
<text x="156.86" y="189.29999999999998" font-size="6.3" text-anchor="middle" fill="#20106a" fill-opacity="0.68" font-weight="bold">2</text>
<text x="168.77" y="189.29999999999998" font-size="6.3" text-anchor="middle" fill="#20106a" fill-opacity="0.68" font-weight="bold">1</text>
<text x="112.75" y="173.60000000000002" font-size="6" fill="#2c2cd0" font-weight="bold" textLength="25.5">4019BE</text>
<rect x="80.9" y="213.6" width="6.8" height="8.8" fill="#ffff00"/>
<rect x="92.80000000000001" y="213.6" width="6.8" height="8.8" fill="#0000ff"/>
<rect x="104.7" y="213.6" width="6.8" height="8.8" fill="#ffff00"/>
<rect x="116.60000000000001" y="213.6" width="6.8" height="8.8" fill="#88cc00"/>
<rect x="128.5" y="213.6" width="6.8" height="8.8" fill="#4060e0"/>
<rect x="140.4" y="213.6" width="6.8" height="8.8" fill="#55aa22"/>
<rect x="152.3" y="213.6" width="6.8" height="8.8" fill="#ff0000"/>
<rect x="80.9" y="245.4" width="6.8" height="8.8" fill="#b06816"/>
<rect x="92.80000000000001" y="245.4" width="6.8" height="8.8" fill="#00aa00"/>
<rect x="104.7" y="245.4" width="6.8" height="8.8" fill="#f090e0"/>
<rect x="116.60000000000001" y="245.4" width="6.8" height="8.8" fill="#00aa00"/>
<rect x="128.5" y="245.4" width="6.8" height="8.8" fill="#ff9c20"/>
<rect x="140.4" y="245.4" width="6.8" height="8.8" fill="#8020b0"/>
<rect x="152.3" y="245.4" width="6.8" height="8.8" fill="#ff9c20"/>

<path d="M79.8,222.4 H160.2 V230.3 A3.6,3.6 0 0 0 160.2,237.5 V245.4 H79.8 Z" fill="none" stroke="#2b2b2b" stroke-width="2"/>
<text x="84.30000000000001" y="220.3" font-size="6.3" text-anchor="middle" fill="#20106a" fill-opacity="0.68" font-weight="bold">8</text>
<text x="96.20000000000002" y="220.3" font-size="6.3" text-anchor="middle" fill="#20106a" fill-opacity="0.68" font-weight="bold">9</text>
<text x="108.10000000000001" y="220.3" font-size="6.3" text-anchor="middle" fill="#20106a" fill-opacity="0.68" font-weight="bold">10</text>
<text x="120.00000000000001" y="220.3" font-size="6.3" text-anchor="middle" fill="#20106a" fill-opacity="0.68" font-weight="bold">11</text>
<text x="131.9" y="220.3" font-size="6.3" text-anchor="middle" fill="#20106a" fill-opacity="0.68" font-weight="bold">12</text>
<text x="143.8" y="220.3" font-size="6.3" text-anchor="middle" fill="#20106a" fill-opacity="0.68" font-weight="bold">13</text>
<text x="155.70000000000002" y="220.3" font-size="6.3" text-anchor="middle" fill="#20106a" fill-opacity="0.68" font-weight="bold">14</text>
<text x="84.30000000000001" y="252.1" font-size="6.3" text-anchor="middle" fill="#20106a" fill-opacity="0.68" font-weight="bold">7</text>
<text x="96.20000000000002" y="252.1" font-size="6.3" text-anchor="middle" fill="#20106a" fill-opacity="0.68" font-weight="bold">6</text>
<text x="108.10000000000001" y="252.1" font-size="6.3" text-anchor="middle" fill="#20106a" fill-opacity="0.68" font-weight="bold">5</text>
<text x="120.00000000000001" y="252.1" font-size="6.3" text-anchor="middle" fill="#20106a" fill-opacity="0.68" font-weight="bold">4</text>
<text x="131.9" y="252.1" font-size="6.3" text-anchor="middle" fill="#20106a" fill-opacity="0.68" font-weight="bold">3</text>
<text x="143.8" y="252.1" font-size="6.3" text-anchor="middle" fill="#20106a" fill-opacity="0.68" font-weight="bold">2</text>
<text x="155.70000000000002" y="252.1" font-size="6.3" text-anchor="middle" fill="#20106a" fill-opacity="0.68" font-weight="bold">1</text>
<text x="106.85" y="236.20000000000002" font-size="6" fill="#2c2cd0" font-weight="bold" textLength="21.5">4013B</text>
<rect x="473.2" y="231.39999999999998" width="6.8" height="8.8" fill="#b86060"/>
<rect x="485.0" y="231.39999999999998" width="6.8" height="8.8" fill="#b0b860"/>
<rect x="496.8" y="231.39999999999998" width="6.8" height="8.8" fill="#ff0000"/>
<rect x="508.6" y="231.39999999999998" width="6.8" height="8.8" fill="#ff9c20"/>
<rect x="520.4" y="231.39999999999998" width="6.8" height="8.8" fill="#ff0000"/>
<rect x="532.2" y="231.39999999999998" width="6.8" height="8.8" fill="#2060c0"/>
<rect x="544.0" y="231.39999999999998" width="6.8" height="8.8" fill="#a0a0a0"/>
<rect x="555.8" y="231.39999999999998" width="6.8" height="8.8" fill="#b06816"/>
<rect x="473.2" y="263.6" width="6.8" height="8.8" fill="#ff0000"/>
<rect x="485.0" y="263.6" width="6.8" height="8.8" fill="#2060a0"/>
<rect x="496.8" y="263.6" width="6.8" height="8.8" fill="#206020"/>
<rect x="508.6" y="263.6" width="6.8" height="8.8" fill="#ff0000"/>
<rect x="520.4" y="263.6" width="6.8" height="8.8" fill="#88dd00"/>
<rect x="532.2" y="263.6" width="6.8" height="8.8" fill="#ff0000"/>
<rect x="544.0" y="263.6" width="6.8" height="8.8" fill="#f060e0"/>
<rect x="555.8" y="263.6" width="6.8" height="8.8" fill="#a0a0a0"/>

<path d="M473,240.2 H563.6 V263.6 H473 V255.5 A3.6,3.6 0 0 0 473,248.3 Z" fill="none" stroke="#2b2b2b" stroke-width="2"/>
<text x="476.59999999999997" y="238.1" font-size="6.3" text-anchor="middle" fill="#20106a" fill-opacity="0.68" font-weight="bold">1</text>
<text x="488.4" y="238.1" font-size="6.3" text-anchor="middle" fill="#20106a" fill-opacity="0.68" font-weight="bold">2</text>
<text x="500.2" y="238.1" font-size="6.3" text-anchor="middle" fill="#20106a" fill-opacity="0.68" font-weight="bold">3</text>
<text x="512.0" y="238.1" font-size="6.3" text-anchor="middle" fill="#20106a" fill-opacity="0.68" font-weight="bold">4</text>
<text x="523.8" y="238.1" font-size="6.3" text-anchor="middle" fill="#20106a" fill-opacity="0.68" font-weight="bold">5</text>
<text x="535.6" y="238.1" font-size="6.3" text-anchor="middle" fill="#20106a" fill-opacity="0.68" font-weight="bold">6</text>
<text x="547.4" y="238.1" font-size="6.3" text-anchor="middle" fill="#000" fill-opacity="1" font-weight="bold">7</text>
<text x="559.1999999999999" y="238.1" font-size="6.3" text-anchor="middle" fill="#20106a" fill-opacity="0.68" font-weight="bold">8</text>
<text x="476.59999999999997" y="270.3" font-size="6.3" text-anchor="middle" fill="#20106a" fill-opacity="0.68" font-weight="bold">16</text>
<text x="488.4" y="270.3" font-size="6.3" text-anchor="middle" fill="#20106a" fill-opacity="0.68" font-weight="bold">15</text>
<text x="500.2" y="270.3" font-size="6.3" text-anchor="middle" fill="#20106a" fill-opacity="0.68" font-weight="bold">14</text>
<text x="512.0" y="270.3" font-size="6.3" text-anchor="middle" fill="#20106a" fill-opacity="0.68" font-weight="bold">13</text>
<text x="523.8" y="270.3" font-size="6.3" text-anchor="middle" fill="#20106a" fill-opacity="0.68" font-weight="bold">12</text>
<text x="535.6" y="270.3" font-size="6.3" text-anchor="middle" fill="#20106a" fill-opacity="0.68" font-weight="bold">11</text>
<text x="547.4" y="270.3" font-size="6.3" text-anchor="middle" fill="#20106a" fill-opacity="0.68" font-weight="bold">10</text>
<text x="559.1999999999999" y="270.3" font-size="6.3" text-anchor="middle" fill="#000" fill-opacity="1" font-weight="bold">9</text>
<text x="503.75" y="254.20000000000002" font-size="6" fill="#2c2cd0" font-weight="bold" textLength="25.5">4098BE</text>
<rect x="448.0" y="368.59999999999997" width="6.8" height="8.8" fill="#a020e0"/>
<rect x="459.83" y="368.59999999999997" width="6.8" height="8.8" fill="#f090e0"/>
<rect x="471.66" y="368.59999999999997" width="6.8" height="8.8" fill="#3070e0"/>
<rect x="483.49" y="368.59999999999997" width="6.8" height="8.8" fill="#e08820"/>
<rect x="495.32" y="368.59999999999997" width="6.8" height="8.8" fill="#40e080"/>
<rect x="507.15" y="368.59999999999997" width="6.8" height="8.8" fill="#ffff00"/>
<rect x="518.98" y="368.59999999999997" width="6.8" height="8.8" fill="#b06816"/>
<rect x="448.0" y="400.2" width="6.8" height="8.8" fill="#ff0000"/>
<rect x="459.83" y="400.2" width="6.8" height="8.8" fill="#00ffff"/>
<rect x="471.66" y="400.2" width="6.8" height="8.8" fill="#88dd00"/>
<rect x="483.49" y="400.2" width="6.8" height="8.8" fill="#ff00ff"/>
<rect x="495.32" y="400.2" width="6.8" height="8.8" fill="#0000ff"/>
<rect x="507.15" y="400.2" width="6.8" height="8.8" fill="#ffff60"/>
<rect x="518.98" y="400.2" width="6.8" height="8.8" fill="#00aa00"/>

<path d="M447.2,377.4 H527.4 V400.2 H447.2 V392.4 A3.6,3.6 0 0 0 447.2,385.19999999999993 Z" fill="none" stroke="#2b2b2b" stroke-width="2"/>
<text x="451.4" y="375.29999999999995" font-size="6.3" text-anchor="middle" fill="#20106a" fill-opacity="0.68" font-weight="bold">1</text>
<text x="463.22999999999996" y="375.29999999999995" font-size="6.3" text-anchor="middle" fill="#20106a" fill-opacity="0.68" font-weight="bold">2</text>
<text x="475.06" y="375.29999999999995" font-size="6.3" text-anchor="middle" fill="#20106a" fill-opacity="0.68" font-weight="bold">3</text>
<text x="486.89" y="375.29999999999995" font-size="6.3" text-anchor="middle" fill="#20106a" fill-opacity="0.68" font-weight="bold">4</text>
<text x="498.71999999999997" y="375.29999999999995" font-size="6.3" text-anchor="middle" fill="#20106a" fill-opacity="0.68" font-weight="bold">5</text>
<text x="510.54999999999995" y="375.29999999999995" font-size="6.3" text-anchor="middle" fill="#20106a" fill-opacity="0.68" font-weight="bold">6</text>
<text x="522.38" y="375.29999999999995" font-size="6.3" text-anchor="middle" fill="#20106a" fill-opacity="0.68" font-weight="bold">7</text>
<text x="451.4" y="406.9" font-size="6.3" text-anchor="middle" fill="#20106a" fill-opacity="0.68" font-weight="bold">14</text>
<text x="463.22999999999996" y="406.9" font-size="6.3" text-anchor="middle" fill="#20106a" fill-opacity="0.68" font-weight="bold">13</text>
<text x="475.06" y="406.9" font-size="6.3" text-anchor="middle" fill="#20106a" fill-opacity="0.68" font-weight="bold">12</text>
<text x="486.89" y="406.9" font-size="6.3" text-anchor="middle" fill="#20106a" fill-opacity="0.68" font-weight="bold">11</text>
<text x="498.71999999999997" y="406.9" font-size="6.3" text-anchor="middle" fill="#20106a" fill-opacity="0.68" font-weight="bold">10</text>
<text x="510.54999999999995" y="406.9" font-size="6.3" text-anchor="middle" fill="#20106a" fill-opacity="0.68" font-weight="bold">9</text>
<text x="522.38" y="406.9" font-size="6.3" text-anchor="middle" fill="#20106a" fill-opacity="0.68" font-weight="bold">8</text>
<text x="473.0" y="391.09999999999997" font-size="6" fill="#2c2cd0" font-weight="bold" textLength="30">40106BE</text>
<path d="M211,123.4 H222.5 M254,123.4 H265" stroke="#2b2b2b" stroke-width="2" fill="none"/>
<rect x="222.5" y="119.0" width="31.5" height="8.8" fill="none" stroke="#2b2b2b" stroke-width="2.1"/>
<text x="238.25" y="125.9" font-size="6.2" text-anchor="middle" fill="#2c2cd0" font-weight="bold">4K7</text>
<path d="M211,136.6 H222.5 M254,136.6 H265" stroke="#2b2b2b" stroke-width="2" fill="none"/>
<rect x="222.5" y="132.2" width="31.5" height="8.8" fill="none" stroke="#2b2b2b" stroke-width="2.1"/>
<text x="238.25" y="139.1" font-size="6.2" text-anchor="middle" fill="#2c2cd0" font-weight="bold">4K7</text>
<path d="M299,122 H310 M342,122 H356" stroke="#2b2b2b" stroke-width="2" fill="none"/>
<rect x="310" y="117.6" width="32" height="8.8" fill="none" stroke="#2b2b2b" stroke-width="2.1"/>
<text x="326.0" y="124.5" font-size="6.2" text-anchor="middle" fill="#2c2cd0" font-weight="bold">4K7</text>
<path d="M489,111 H501.8 M533.8,111 H547" stroke="#2b2b2b" stroke-width="2" fill="none"/>
<rect x="501.8" y="106.6" width="31.999999999999943" height="8.8" fill="none" stroke="#2b2b2b" stroke-width="2.1"/>
<text x="517.8" y="113.5" font-size="6.2" text-anchor="middle" fill="#2c2cd0" font-weight="bold">120</text>
<path d="M491,145.5 H505 M537,145.5 H549.5" stroke="#2b2b2b" stroke-width="2" fill="none"/>
<rect x="505" y="141.1" width="32" height="8.8" fill="none" stroke="#2b2b2b" stroke-width="2.1"/>
<text x="521.0" y="148.0" font-size="6.2" text-anchor="middle" fill="#2c2cd0" font-weight="bold">10K</text>
<path d="M491,161.5 H505 M537,161.5 H549.5" stroke="#2b2b2b" stroke-width="2" fill="none"/>
<rect x="505" y="157.1" width="32" height="8.8" fill="none" stroke="#2b2b2b" stroke-width="2.1"/>
<text x="521.0" y="164.0" font-size="6.2" text-anchor="middle" fill="#2c2cd0" font-weight="bold">10K</text>
<path d="M455,176.5 H469.8 M502.2,176.5 H517" stroke="#2b2b2b" stroke-width="2" fill="none"/>
<rect x="469.8" y="172.1" width="32.39999999999998" height="8.8" fill="none" stroke="#2b2b2b" stroke-width="2.1"/>
<text x="486.0" y="179.0" font-size="6.2" text-anchor="middle" fill="#2c2cd0" font-weight="bold">820K</text>
<path d="M455,192.3 H469.8 M502.2,192.3 H517" stroke="#2b2b2b" stroke-width="2" fill="none"/>
<rect x="469.8" y="187.9" width="32.39999999999998" height="8.8" fill="none" stroke="#2b2b2b" stroke-width="2.1"/>
<text x="486.0" y="194.8" font-size="6.2" text-anchor="middle" fill="#2c2cd0" font-weight="bold">820K</text>
<path d="M499,309.4 H513 M545,309.4 H557" stroke="#2b2b2b" stroke-width="2" fill="none"/>
<rect x="513" y="305.0" width="32" height="8.8" fill="none" stroke="#2b2b2b" stroke-width="2.1"/>
<text x="529.0" y="311.9" font-size="6.2" text-anchor="middle" fill="#2c2cd0" font-weight="bold">330K</text>
<path d="M499,325.4 H513 M545,325.4 H557" stroke="#2b2b2b" stroke-width="2" fill="none"/>
<rect x="513" y="321.0" width="32" height="8.8" fill="none" stroke="#2b2b2b" stroke-width="2.1"/>
<text x="529.0" y="327.9" font-size="6.2" text-anchor="middle" fill="#2c2cd0" font-weight="bold">330K</text>
<path d="M86,332.4 H100.4 M132.8,332.4 H146" stroke="#2b2b2b" stroke-width="2" fill="none"/>
<rect x="100.4" y="328.0" width="32.400000000000006" height="8.8" fill="none" stroke="#2b2b2b" stroke-width="2.1"/>
<text x="116.60000000000001" y="334.9" font-size="6.2" text-anchor="middle" fill="#2c2cd0" font-weight="bold">10K</text>
<path d="M86,347.4 H100.4 M132.8,347.4 H146" stroke="#2b2b2b" stroke-width="2" fill="none"/>
<rect x="100.4" y="343.0" width="32.400000000000006" height="8.8" fill="none" stroke="#2b2b2b" stroke-width="2.1"/>
<text x="116.60000000000001" y="349.9" font-size="6.2" text-anchor="middle" fill="#2c2cd0" font-weight="bold">10K</text>
<path d="M171,422.8 H185.5 M217.3,422.8 H231" stroke="#2b2b2b" stroke-width="2" fill="none"/>
<rect x="185.5" y="418.40000000000003" width="31.80000000000001" height="8.8" fill="none" stroke="#2b2b2b" stroke-width="2.1"/>
<text x="201.4" y="425.3" font-size="6.2" text-anchor="middle" fill="#2c2cd0" font-weight="bold">120</text>
<path d="M487,206.3 H498.8 M503.2,206.3 H516 M498.8,201.8 V210.8 M503.2,201.8 V210.8" stroke="#2b2b2b" stroke-width="1.7" fill="none"/>
<path d="M485,282.8 H496.40000000000003 M500.8,282.8 H513 M496.40000000000003,278.3 V287.3 M500.8,278.3 V287.3" stroke="#2b2b2b" stroke-width="1.7" fill="none"/>
<path d="M527,341.2 H541.0999999999999 M545.5,341.2 H556 M541.0999999999999,336.7 V345.7 M545.5,336.7 V345.7" stroke="#2b2b2b" stroke-width="1.7" fill="none"/>
<path d="M527,356.3 H541.0999999999999 M545.5,356.3 H556 M541.0999999999999,351.8 V360.8 M545.5,351.8 V360.8" stroke="#2b2b2b" stroke-width="1.7" fill="none"/>
<circle cx="209.7" cy="103" r="4.1" fill="#a030e0"/>
<circle cx="267.7" cy="102.8" r="4.1" fill="#a030e0"/>
<circle cx="296.7" cy="102.8" r="4.1" fill="#a030e0"/>
<circle cx="296.9" cy="122.3" r="4.1" fill="#a030e0"/>
<circle cx="354.4" cy="102.8" r="4.1" fill="#a030e0"/>
<circle cx="209.6" cy="123.4" r="3.9" fill="#d0209a"/>
<circle cx="209.6" cy="136.2" r="3.9" fill="#33c4f0"/>
<circle cx="265.8" cy="123.4" r="3.9" fill="#ff0000"/>
<circle cx="265.8" cy="136.8" r="3.9" fill="#ff0000"/>
<circle cx="355.3" cy="122.8" r="3.9" fill="#ff0000"/>
<circle cx="94.3" cy="269.4" r="4.2" fill="#f090e0"/>
<circle cx="153.75" cy="269.4" r="4.2" fill="#f090e0"/>
<circle cx="94.3" cy="289.6" r="4.2" fill="#ff0000"/>
<circle cx="153.75" cy="289.6" r="4.2" fill="#ff0000"/>
<circle cx="86.6" cy="332.4" r="4.0" fill="#b06816"/>
<circle cx="86.6" cy="347.4" r="4.0" fill="#b06816"/>
<circle cx="145.3" cy="332.3" r="4.0" fill="#00ffff"/>
<circle cx="145.3" cy="347.4" r="4.0" fill="#ff00ff"/>
<circle cx="171.4" cy="422.8" r="4.2" fill="#b06816"/>
<circle cx="230.4" cy="423" r="4.2" fill="#80e860"/>
<circle cx="487.5" cy="111" r="4.2" fill="#80e860"/>
<circle cx="547" cy="111" r="4.2" fill="#b06816"/>
<circle cx="490" cy="146" r="4.0" fill="#3080f0"/>
<circle cx="490" cy="161.5" r="4.0" fill="#b020f0"/>
<circle cx="549.6" cy="145.6" r="4.0" fill="#b06816"/>
<circle cx="549.6" cy="161.5" r="4.0" fill="#b06816"/>
<circle cx="456.5" cy="176.5" r="3.9" fill="#d0209a"/>
<circle cx="456.5" cy="192.3" r="3.9" fill="#d0209a"/>
<circle cx="514.6" cy="176.5" r="4.1" fill="#206020"/>
<circle cx="515.6" cy="192.3" r="4.1" fill="#b0b860"/>
<circle cx="487" cy="206.2" r="4.0" fill="#b86060"/>
<circle cx="515.6" cy="206.2" r="4.1" fill="#b0b860"/>
<circle cx="484.6" cy="282.8" r="3.9" fill="#2060a0"/>
<circle cx="512.75" cy="282.8" r="3.9" fill="#206020"/>
<circle cx="499" cy="309.6" r="4.1" fill="#40e080"/>
<circle cx="557.2" cy="309.8" r="4.0" fill="#f060e0"/>
<circle cx="499" cy="325.4" r="4.1" fill="#f4f458"/>
<circle cx="557.2" cy="325.4" r="4.0" fill="#2060a0"/>
<circle cx="527.2" cy="341.2" r="3.9" fill="#40e080"/>
<circle cx="556.2" cy="341.2" r="3.9" fill="#b06816"/>
<circle cx="527.2" cy="356.4" r="3.9" fill="#f4f458"/>
<circle cx="556.2" cy="356.4" r="3.9" fill="#b06816"/>
<path d="M62,66.2 H101 M73.4,66.2 V61.4 H89 V66.2 M53,75.5 H66.3 M97,75.5 H109" stroke="#2b2b2b" stroke-width="1.7" fill="none"/>
<circle cx="66.3" cy="75.5" r="2.7" fill="#2b2b2b"/>
<circle cx="97" cy="75.5" r="2.7" fill="#2b2b2b"/>
<path d="M533,66.2 H571 M544.6,66.2 V61.4 H560 V66.2 M524,75.5 H537 M567.5,75.5 H580" stroke="#2b2b2b" stroke-width="1.7" fill="none"/>
<circle cx="537" cy="75.5" r="2.7" fill="#2b2b2b"/>
<circle cx="567.5" cy="75.5" r="2.7" fill="#2b2b2b"/>
<text x="50.0" y="57.3" font-size="7.7" fill="#2c2cd0" stroke="#2c2cd0" stroke-width=".35" textLength="61" lengthAdjust="spacingAndGlyphs">BOUTON ACTION</text>
<text x="516.5" y="57.3" font-size="7.7" fill="#2c2cd0" stroke="#2c2cd0" stroke-width=".35" textLength="61" lengthAdjust="spacingAndGlyphs">BOUTON ACTION</text>
<text x="86.0" y="93.8" font-size="7.7" fill="#2c2cd0" stroke="#2c2cd0" stroke-width=".35" textLength="41" lengthAdjust="spacingAndGlyphs">SELECTION</text>
<text x="95.25" y="102.5" font-size="7.7" fill="#2c2cd0" stroke="#2c2cd0" stroke-width=".35" textLength="22.5" lengthAdjust="spacingAndGlyphs">MODE</text>
<text x="415.0" y="119" font-size="7.7" fill="#2c2cd0" stroke="#2c2cd0" stroke-width=".35" textLength="29.2" lengthAdjust="spacingAndGlyphs">COUPLE</text>
<text x="419.2" y="127.9" font-size="7.7" fill="#2c2cd0" stroke="#2c2cd0" stroke-width=".35" textLength="20.4" lengthAdjust="spacingAndGlyphs">OPTO</text>
<text x="418.6" y="136.6" font-size="7.7" fill="#2c2cd0" stroke="#2c2cd0" stroke-width=".35" textLength="22.4" lengthAdjust="spacingAndGlyphs">AXE X</text>
<text x="138.6" y="375.8" font-size="7.7" fill="#2c2cd0" stroke="#2c2cd0" stroke-width=".35" textLength="29.2" lengthAdjust="spacingAndGlyphs">COUPLE</text>
<text x="142.8" y="384.5" font-size="7.7" fill="#2c2cd0" stroke="#2c2cd0" stroke-width=".35" textLength="20.4" lengthAdjust="spacingAndGlyphs">OPTO</text>
<text x="142.20000000000002" y="393.2" font-size="7.7" fill="#2c2cd0" stroke="#2c2cd0" stroke-width=".35" textLength="22.4" lengthAdjust="spacingAndGlyphs">AXE Y</text>
<text x="292.8" y="13.6" font-size="7.2" fill="#4444ff" text-anchor="start" font-weight="normal" textLength="62" stroke="#4444ff" stroke-width=".4">VERS FICHE DB9</text>
<text x="227.5" y="466.4" font-size="7.8" fill="#222" text-anchor="start" font-weight="normal" textLength="184" stroke="#222" stroke-width=".3">© SEGAKORE - Original : © alex_79 @AtariAge</text>
<text x="490.4" y="291.4" font-size="6" fill="#2c2cd0" text-anchor="start" font-weight="bold" >0,1µF</text>
<text x="534.6" y="350.4" font-size="6" fill="#2c2cd0" text-anchor="start" font-weight="bold" >0,1µF</text>
<text x="534.6" y="365.4" font-size="6" fill="#2c2cd0" text-anchor="start" font-weight="bold" >0,1µF</text>
<text x="12.6" y="14.9" font-size="14.2" fill="#000" stroke="#000" stroke-width=".3" font-weight="bold" textLength="105.8" lengthAdjust="spacingAndGlyphs">BOUTON SAUT</text>
<text x="509.4" y="13.2" font-size="14.2" fill="#000" stroke="#000" stroke-width=".3" font-weight="bold" textLength="113.2" lengthAdjust="spacingAndGlyphs">BOUTON START</text>
<text x="603.6" y="149.2" font-size="14.2" fill="#000" stroke="#000" stroke-width=".3" font-weight="bold" textLength="31" lengthAdjust="spacingAndGlyphs">GND</text>
<text x="292.6" y="220" font-size="14.2" fill="#000" stroke="#000" stroke-width=".3" font-weight="bold" textLength="29.2" lengthAdjust="spacingAndGlyphs">+5V</text>
<text x="528.6" y="460.2" font-size="14.2" fill="#000" stroke="#000" stroke-width=".3" font-weight="bold" textLength="105.6" lengthAdjust="spacingAndGlyphs">XA, XB, YA, YB</text>
<g transform="rotate(42 151.9 104.5)"><rect x="146.15" y="100.9" width="11.5" height="7.2" fill="#33c4f0"/><text x="151.9" y="106.6" font-size="5.8" font-weight="bold" text-anchor="middle" fill="#20106a" fill-opacity=".7" transform="rotate(90 151.9 104.5)">2</text></g>
<g transform="rotate(42 145.2 112.2)"><rect x="139.45" y="108.60000000000001" width="11.5" height="7.2" fill="#b06816"/><text x="145.2" y="114.3" font-size="5.8" font-weight="bold" text-anchor="middle" fill="#20106a" fill-opacity=".7" transform="rotate(90 145.2 112.2)">1</text></g>
<g transform="rotate(42 137.5 120.3)"><rect x="131.75" y="116.7" width="11.5" height="7.2" fill="#d0209a"/><text x="137.5" y="122.39999999999999" font-size="5.8" font-weight="bold" text-anchor="middle" fill="#20106a" fill-opacity=".7" transform="rotate(90 137.5 120.3)">3</text></g>
<path d="M137,90.4 L148.5,101.6 M141,109.5 L136.5,104.7 L125,99.8 L121.8,106 L133.4,117.2" fill="none" stroke="#333" stroke-width="1.7" stroke-linejoin="round"/>
<circle cx="135" cy="93.5" r="2.3" fill="#333"/>
<circle cx="136.5" cy="104.8" r="2.3" fill="#333"/>
<circle cx="124.7" cy="103.8" r="2.3" fill="#333"/>
<path d="M377.5,79.2 L387.8,99.4" fill="none" stroke="#000" stroke-width="1.2" stroke-dasharray="3.6 2 1.2 2"/>
<path d="M391.5,93.7 L403.8,100.8 M391.5,103.3 L404.2,96.4" fill="none" stroke="#000" stroke-width="1.5" stroke-linecap="round"/>
<ellipse cx="407" cy="94.3" rx="2.5" ry="3" fill="none" stroke="#000" stroke-width="1.4" transform="rotate(30 407 94.3)"/>
<ellipse cx="406.6" cy="103.1" rx="3" ry="2.3" fill="none" stroke="#000" stroke-width="1.4" transform="rotate(15 406.6 103.1)"/>
<path d="M120.5,11 C150,10.5 180,21 196,45 C203,56 206.5,68 207,82" fill="none" stroke="#000" stroke-width="3.0" stroke-linecap="butt"/>
<path d="M208.75,97.5 L194.5,73.5 L206.5,80.5 L215.5,70.5 Z" fill="#000"/>
<path d="M506,8.2 C480,7 455,9 437,22 C420,34 410,50 404,67" fill="none" stroke="#000" stroke-width="3.0" stroke-linecap="butt"/>
<path d="M396,83 L392,57 L402.8,66 L414.5,62.5 Z" fill="#000"/>
<path d="M624.3,134 C623,123 615,117.2 602,116.4 C588,115.8 575,121 567.2,130.6" fill="none" stroke="#000" stroke-width="3.0" stroke-linecap="butt"/>
<path d="M555.3,143 L564,119.5 L567.5,130 L580.5,131.5 Z" fill="#000"/>
<path d="M329,216 C345,203 356,188 358.5,168 C359.3,160 359.3,152 359,146" fill="none" stroke="#000" stroke-width="3.0" stroke-linecap="butt"/>
<path d="M356.5,128.4 L350.6,154 L359,146.5 L369.6,151.5 Z" fill="#000"/>
<path d="M583.6,444 C583.5,425 580,404 571,394 C567,390 561,388.5 555,388.6" fill="none" stroke="#000" stroke-width="3.0" stroke-linecap="butt"/>
<path d="M536,387.8 L560.5,378 L555.5,388.6 L558,401.5 Z" fill="#000"/>
</svg></body></html>
